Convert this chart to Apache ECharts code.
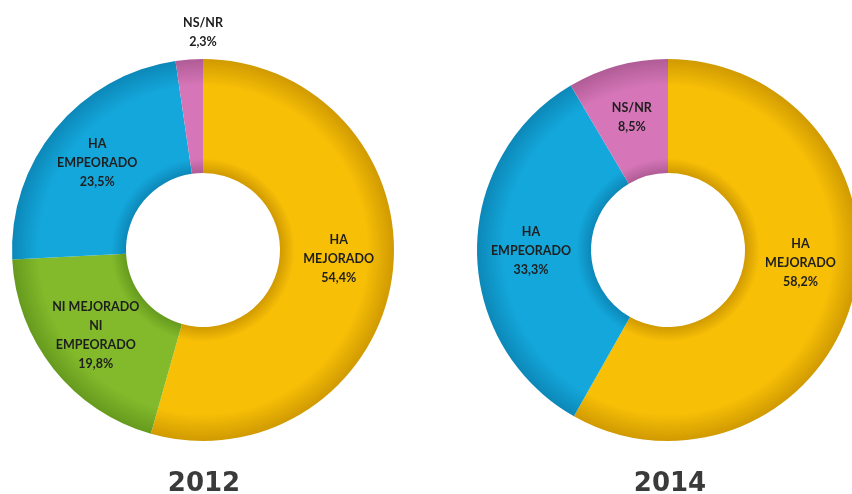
<!DOCTYPE html>
<html>
<head>
<meta charset="utf-8">
<script src="https://cdn.jsdelivr.net/npm/echarts@6/dist/echarts.min.js"></script>
<style>
html,body{margin:0;padding:0;background:#fff;}
#chart{width:852px;height:494px;}
</style>
</head>
<body>
<div id="chart"></div>
<script>
const years = ['2012', '2014'];
const categories2012 = ['HA\nMEJORADO', 'NI MEJORADO\nNI\nEMPEORADO', 'HA\nEMPEORADO', 'NS/NR'];
const values2012 = [54.4, 19.8, 23.5, 2.3];
const categories2014 = ['HA\nMEJORADO', 'HA\nEMPEORADO', 'NS/NR'];
const values2014 = [58.2, 33.3, 8.5];

const baseColors = {
  'HA\nMEJORADO': ['#F7BF06', '#D09A02'],
  'NI MEJORADO\nNI\nEMPEORADO': ['#82BA2B', '#669A1E'],
  'HA\nEMPEORADO': ['#14A7DB', '#0C88B8'],
  'NS/NR': ['#D676B8', '#B05C96']
};

const centers = [[203, 250], [668, 250]];
const titleX = [199, 665];
const R_OUT = 191, R_IN = 77;

function shade(cat, c) {
  const [main, dark] = baseColors[cat];
  return {
    type: 'radial', x: c[0], y: c[1], r: R_OUT, global: true,
    colorStops: [
      {offset: R_IN / R_OUT, color: dark},
      {offset: 0.48, color: main},
      {offset: 0.86, color: main},
      {offset: 1, color: dark}
    ]
  };
}

function fmt(v) { return v.toFixed(1).replace('.', ',') + '%'; }

function makeSeries(cats, vals, c, idx) {
  return {
    type: 'pie',
    center: c,
    radius: [R_IN, R_OUT],
    startAngle: 90,
    clockwise: true,
    silent: true,
    avoidLabelOverlap: false,
    label: {
      show: true,
      position: 'inner',
      formatter: p => p.name + '\n' + fmt(p.value),
      fontFamily: 'Lato, "Open Sans", sans-serif',
      fontWeight: 'bold',
      fontSize: 12.5,
      lineHeight: 19,
      color: '#1e1e1e',
      align: 'center'
    },
    labelLine: {show: false},
    labelLayout: function (p) {
      if (p.dataIndex === 0) return {dy: idx === 0 ? -10 : -22};
      if (idx === 0 && p.dataIndex === 3) {
        return {x: c[0], y: c[1] - R_OUT - 27, align: 'center', verticalAlign: 'middle'};
      }
      return {};
    },
    data: cats.map((n, i) => ({
      name: n,
      value: vals[i],
      itemStyle: {color: shade(n, c)}
    }))
  };
}

const chart = echarts.init(document.getElementById('chart'));
chart.setOption({
  backgroundColor: '#fff',
  animation: false,
  title: years.map((y, i) => ({
    text: y,
    left: titleX[i],
    top: 466,
    textAlign: 'center',
    textStyle: {
      fontFamily: '"DejaVu Sans", sans-serif',
      fontWeight: 'bold',
      fontSize: 26,
      color: '#3a3a3a'
    }
  })),
  series: [
    makeSeries(categories2012, values2012, centers[0], 0),
    makeSeries(categories2014, values2014, centers[1], 1)
  ]
});
</script>
</body>
</html>
